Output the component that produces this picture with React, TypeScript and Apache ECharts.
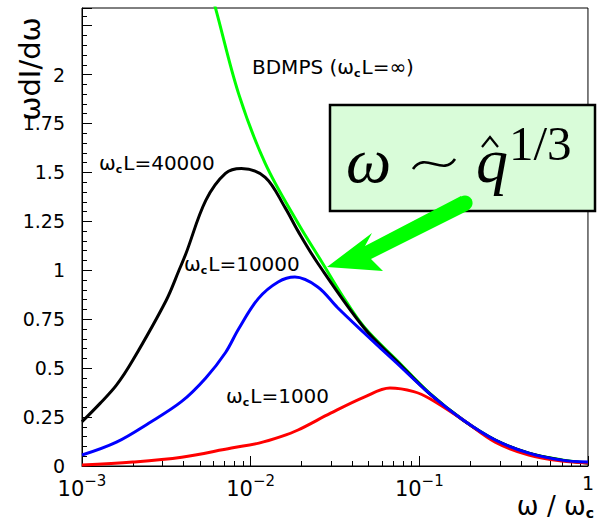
import React, { useEffect, useRef } from 'react';
import * as echarts from 'echarts';

// ω/ωc values and ω dI/dω values
const bdmpsX = [0.0058, 0.0062, 0.0085, 0.0122, 0.0191, 0.0267, 0.035, 0.0471, 0.0736, 0.115, 0.182, 0.282, 0.446, 0.7, 1.0];
const bdmpsY = [2.42, 2.337, 1.9, 1.546, 1.24, 1.036, 0.87, 0.71, 0.54, 0.372, 0.235, 0.133, 0.066, 0.031, 0.015];

const l40000X = [0.001, 0.00128, 0.0016, 0.002, 0.00316, 0.00376, 0.00414, 0.00542, 0.00709, 0.00881, 0.0122, 0.016, 0.0191, 0.025, 0.0471, 0.0736, 0.115, 0.182, 0.282, 0.446, 0.7, 1.0];
const l40000Y = [0.226, 0.32, 0.413, 0.54, 0.847, 1.0, 1.087, 1.357, 1.495, 1.52, 1.475, 1.32, 1.2, 1.036, 0.705, 0.535, 0.37, 0.234, 0.132, 0.065, 0.03, 0.015];

const l10000X = [0.001, 0.0016, 0.0025, 0.0039, 0.00542, 0.0071, 0.00848, 0.0111, 0.01455, 0.0183, 0.025, 0.0327, 0.0471, 0.0736, 0.115, 0.182, 0.282, 0.446, 0.7, 1.0];
const l10000Y = [0.056, 0.122, 0.22, 0.33, 0.45, 0.58, 0.7, 0.855, 0.94, 0.965, 0.915, 0.81, 0.68, 0.525, 0.37, 0.235, 0.133, 0.066, 0.03, 0.02];

const l1000X = [0.001, 0.002, 0.0039, 0.0077, 0.0112, 0.0151, 0.0191, 0.0298, 0.0471, 0.067, 0.0927, 0.115, 0.182, 0.282, 0.446, 0.7, 1.0];
const l1000Y = [0.005, 0.02, 0.045, 0.092, 0.117, 0.15, 0.184, 0.27, 0.352, 0.398, 0.38, 0.345, 0.235, 0.122, 0.056, 0.025, 0.015];

const xMinorTicks = [0.002, 0.003, 0.004, 0.005, 0.006, 0.007, 0.008, 0.009, 0.02, 0.03, 0.04, 0.05, 0.06, 0.07, 0.08, 0.09, 0.2, 0.3, 0.4, 0.5, 0.6, 0.7, 0.8, 0.9];
const yMinorTicks = [0.05, 0.1, 0.15, 0.2, 0.3, 0.35, 0.4, 0.45, 0.55, 0.6, 0.65, 0.7, 0.8, 0.85, 0.9, 0.95, 1.05, 1.1, 1.15, 1.2, 1.3, 1.35, 1.4, 1.45, 1.55, 1.6, 1.65, 1.7, 1.8, 1.85, 1.9, 1.95, 2.05, 2.1, 2.15, 2.2, 2.3];
const yLabeled = [0, 0.25, 0.5, 0.75, 1, 1.25, 1.5, 1.75, 2];

const FONT = "'DejaVu Sans', sans-serif";
const SERIF = "'Liberation Serif', 'DejaVu Serif', serif";

const pair = (xs: number[], ys: number[]) => xs.map((x, i) => [x, ys[i]]);

const curveLabelRich = {
  t: { fontSize: 20, fontFamily: FONT, color: '#000', lineHeight: 24, verticalAlign: 'middle' },
  c: { fontSize: 11, fontFamily: FONT, fontWeight: 'bold', color: '#000', lineHeight: 22, verticalAlign: 'bottom', padding: [0, 1, 0, 0] },
};

export default function App() {
  const ref = useRef<HTMLDivElement>(null);
  useEffect(() => {
    const chart = echarts.init(ref.current!, undefined, { renderer: 'svg' });
    const lineSeries = (name: string, xs: number[], ys: number[], color: string, z: number) => ({
      name,
      type: 'line',
      data: pair(xs, ys),
      showSymbol: false,
      smooth: 0.35,
      lineStyle: { color, width: 3 },
      z,
      clip: true,
    });
    chart.setOption({
      animation: false,
      backgroundColor: '#fff',
      grid: { left: 82, right: 4, top: 8, bottom: 56, show: true, borderColor: '#000', borderWidth: 1, backgroundColor: 'transparent' },
      xAxis: [
        {
          type: 'log', logBase: 10, min: 0.001, max: 1, position: 'bottom',
          axisLine: { show: true, lineStyle: { color: '#000', width: 1 } },
          axisTick: { show: true, inside: true, length: 10, lineStyle: { color: '#000' } },
          splitLine: { show: false },
          axisLabel: {
            margin: 7,
            formatter: (v: number) => {
              const e = Math.round(Math.log10(v));
              return e === 0 ? '{one|1}' : `{b|10}{s|\u2212${-e}}`;
            },
            rich: {
              b: { fontSize: 21, fontFamily: FONT, color: '#000', lineHeight: 26, verticalAlign: 'bottom' },
              s: { fontSize: 15, fontFamily: FONT, color: '#000', lineHeight: 15, verticalAlign: 'top' },
              one: { fontSize: 19, fontFamily: FONT, color: '#000', lineHeight: 26, verticalAlign: 'top' },
            },
          },
        },
        {
          type: 'log', logBase: 10, min: 0.001, max: 1, position: 'bottom',
          axisLine: { show: false },
          axisTick: { show: true, inside: true, length: 5, customValues: xMinorTicks, lineStyle: { color: '#000' } },
          axisLabel: { show: false },
          splitLine: { show: false },
        },
      ],
      yAxis: [
        {
          type: 'value', min: 0, max: 2.34, interval: 0.25,
          axisLine: { show: true, lineStyle: { color: '#000', width: 1 } },
          axisTick: { show: true, inside: true, length: 10, lineStyle: { color: '#000' } },
          splitLine: { show: false },
          axisLabel: {
            margin: 17, fontSize: 19, fontFamily: FONT, color: '#000',
            customValues: yLabeled,
            formatter: (v: number) => String(+v.toFixed(2)),
          },
        },
        {
          type: 'value', min: 0, max: 2.34, position: 'left',
          axisLine: { show: false },
          axisTick: { show: true, inside: true, length: 5, customValues: yMinorTicks, lineStyle: { color: '#000' } },
          axisLabel: { show: false },
          splitLine: { show: false },
        },
      ],
      series: [
        lineSeries('BDMPS', bdmpsX, bdmpsY, '#00ff00', 2),
        lineSeries('40000', l40000X, l40000Y, '#000000', 3),
        lineSeries('1000', l1000X, l1000Y, '#ff0000', 4),
        lineSeries('10000', l10000X, l10000Y, '#0000ff', 5),
      ],
      graphic: [
        // y title
        { type: 'text', x: 30, y: 69, rotation: Math.PI / 2, z: 100,
          style: { text: '\u03c9dI/d\u03c9', font: `29px ${FONT}`, fill: '#000', align: 'center', verticalAlign: 'middle' } },
        // x title
        { type: 'text', x: 594, y: 506, z: 100,
          style: { text: '{t|\u03c9 / \u03c9}{c|c}', align: 'right', verticalAlign: 'middle',
            rich: {
              t: { fontSize: 26, fontFamily: FONT, color: '#000', lineHeight: 28, verticalAlign: 'middle' },
              c: { fontSize: 14, fontFamily: FONT, fontWeight: 'bold', color: '#000', lineHeight: 28, verticalAlign: 'bottom' },
            } } },
        // curve labels
        { type: 'text', x: 252, y: 67, z: 100,
          style: { text: '{t|BDMPS (\u03c9}{c|c}{t|L=\u221e)}', align: 'left', verticalAlign: 'middle', rich: curveLabelRich } },
        { type: 'text', x: 99, y: 163, z: 100,
          style: { text: '{t|\u03c9}{c|c}{t|L=40000}', align: 'left', verticalAlign: 'middle', rich: curveLabelRich } },
        { type: 'text', x: 184, y: 264, z: 100,
          style: { text: '{t|\u03c9}{c|c}{t|L=10000}', align: 'left', verticalAlign: 'middle', rich: curveLabelRich } },
        { type: 'text', x: 226, y: 396, z: 100,
          style: { text: '{t|\u03c9}{c|c}{t|L=1000}', align: 'left', verticalAlign: 'middle', rich: curveLabelRich } },
        // annotation box
        { type: 'rect', z: 100, shape: { x: 330, y: 105, width: 265, height: 106 },
          style: { fill: '#d9fcd9', stroke: '#000', lineWidth: 2.5 } },
        { type: 'text', x: 346, y: 160, z: 101,
          style: { text: '\u03c9', font: `italic 64px ${SERIF}`, fill: '#000', align: 'left', verticalAlign: 'middle' } },
        { type: 'bezierCurve', z: 101,
          shape: { x1: 413, y1: 169, x2: 455, y2: 159, cpx1: 425, cpy1: 151, cpx2: 443, cpy2: 177 },
          style: { stroke: '#000', lineWidth: 2.6, fill: 'none' } },
        { type: 'text', x: 476, y: 160, z: 101,
          style: { text: 'q', font: `italic 64px ${SERIF}`, fill: '#000', align: 'left', verticalAlign: 'middle' } },
        { type: 'polyline', z: 101, shape: { points: [[482, 147], [490, 137], [498, 147]] },
          style: { stroke: '#000', lineWidth: 2.2, fill: 'none' } },
        { type: 'text', x: 509, y: 143, z: 101,
          style: { text: '1/3', font: `49px ${SERIF}`, fill: '#000', align: 'left', verticalAlign: 'middle' } },
        // arrow
        { type: 'polygon', z: 102,
          shape: { points: [[327, 267], [372, 233], [365, 246], [461, 196], [469, 210], [371, 259], [383, 271]] },
          style: { fill: '#00ff00' } },
        { type: 'circle', z: 102, shape: { cx: 465, cy: 203, r: 7.6 }, style: { fill: '#00ff00' } },
      ],
    });
    return () => chart.dispose();
  }, []);
  return <div ref={ref} style={{ position: 'absolute', left: 0, top: 0, width: 597, height: 522 }} />;
}
